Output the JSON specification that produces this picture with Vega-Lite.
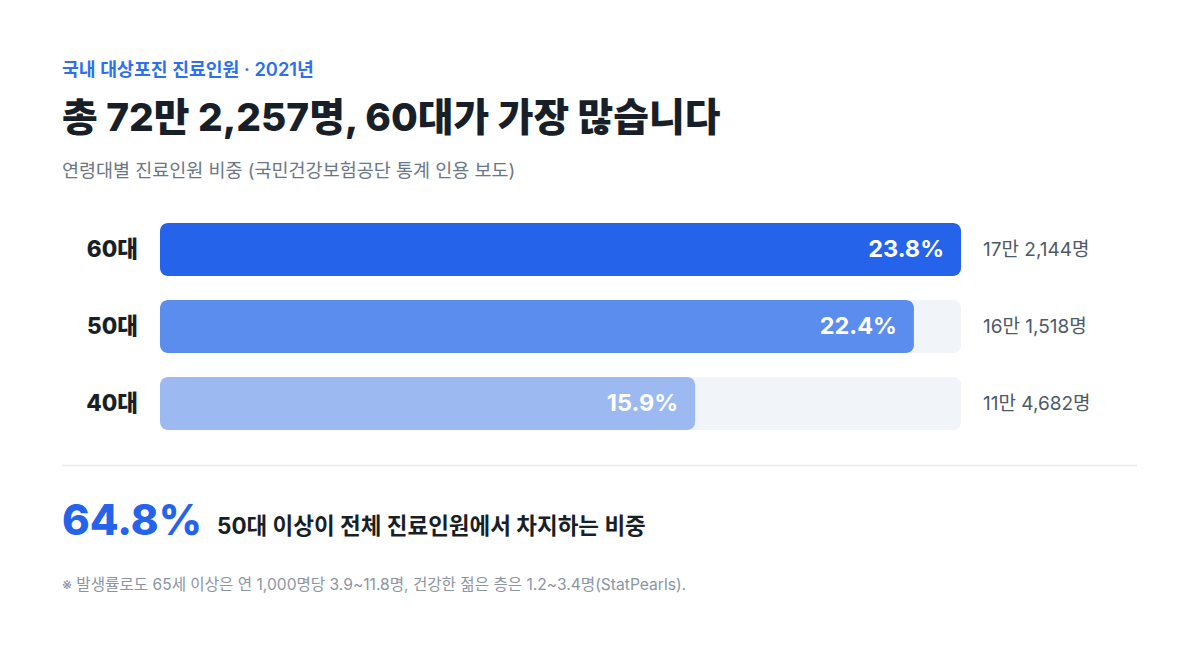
{
  "$schema": "https://vega.github.io/schema/vega-lite/v6.json",
  "width": 1200,
  "height": 207,
  "autosize": {"type": "none"},
  "padding": {"top": 223, "bottom": 223, "left": 0, "right": 0},
  "background": "#ffffff",
  "config": {
    "view": {"stroke": null},
    "font": "Inter, 'Noto Sans CJK KR', sans-serif"
  },
  "datasets": {
    "ages": [
      {"age": "60대", "share": 23.8, "label": "23.8%", "people": "17만 2,144명"},
      {"age": "50대", "share": 22.4, "label": "22.4%", "people": "16만 1,518명"},
      {"age": "40대", "share": 15.9, "label": "15.9%", "people": "11만 4,682명"}
    ],
    "texts": [
      {"role": "kicker", "text": "국내 대상포진 진료인원 · 2021년"},
      {"role": "headline", "text": "총 72만 2,257명, 60대가 가장 많습니다"},
      {"role": "subtitle", "text": "연령대별 진료인원 비중 (국민건강보험공단 통계 인용 보도)"},
      {"role": "highlight", "text": "64.8%"},
      {"role": "highlightDesc", "text": "50대 이상이 전체 진료인원에서 차지하는 비중"},
      {"role": "note", "text": "※ 발생률로도 65세 이상은 연 1,000명당 3.9~11.8명, 건강한 젊은 층은 1.2~3.4명(StatPearls)."}
    ]
  },
  "layer": [
    {
      "data": {"name": "ages"},
      "mark": {"type": "bar", "cornerRadius": 8, "color": "#f1f4f9"},
      "encoding": {
        "y": {
          "field": "age", "type": "nominal", "axis": null,
          "scale": {"domain": ["60대", "50대", "40대"], "paddingInner": 0.311688, "paddingOuter": 0}
        },
        "x": {"datum": 0, "type": "quantitative", "axis": null, "scale": {"domain": [-4.754, 30.90], "nice": false, "zero": false}},
        "x2": {"datum": 23.8}
      }
    },
    {
      "data": {"name": "ages"},
      "mark": {"type": "bar", "cornerRadius": 8},
      "encoding": {
        "y": {"field": "age", "type": "nominal"},
        "x": {"field": "share", "type": "quantitative"},
        "x2": {"datum": 0},
        "color": {
          "field": "age", "type": "nominal", "legend": null,
          "scale": {"domain": ["60대", "50대", "40대"], "range": ["#2563eb", "#5b8def", "#9cb9f2"]}
        }
      }
    },
    {
      "data": {"name": "ages"},
      "mark": {"type": "text", "align": "right", "baseline": "middle", "dx": -17, "fontSize": 23.5, "fontWeight": "bold", "color": "#ffffff"},
      "encoding": {
        "y": {"field": "age", "type": "nominal"},
        "x": {"field": "share", "type": "quantitative"},
        "text": {"field": "label"}
      }
    },
    {
      "data": {"name": "ages"},
      "mark": {"type": "text", "align": "left", "baseline": "middle", "dx": 22, "fontSize": 19, "color": "#4e5968"},
      "encoding": {
        "y": {"field": "age", "type": "nominal"},
        "x": {"datum": 23.8, "type": "quantitative"},
        "text": {"field": "people"}
      }
    },
    {
      "data": {"name": "ages"},
      "mark": {"type": "text", "align": "right", "baseline": "middle", "dx": -22, "fontSize": 22.5, "fontWeight": 800, "color": "#191f28"},
      "encoding": {
        "y": {"field": "age", "type": "nominal"},
        "x": {"datum": 0, "type": "quantitative"},
        "text": {"field": "age"}
      }
    },
    {
      "data": {"name": "texts"},
      "transform": [{"filter": "datum.role === 'kicker'"}],
      "mark": {"type": "text", "align": "left", "baseline": "middle", "dx": -98, "dy": -179, "fontSize": 18.3, "fontWeight": 600, "color": "#2f6fed"},
      "encoding": {
        "y": {"datum": "60대", "type": "nominal"},
        "x": {"datum": 0, "type": "quantitative"},
        "text": {"field": "text"}
      }
    },
    {
      "data": {"name": "texts"},
      "transform": [{"filter": "datum.role === 'headline'"}],
      "mark": {"type": "text", "align": "left", "baseline": "middle", "dx": -98, "dy": -130.5, "fontSize": 38.8, "fontWeight": 800, "color": "#191f28"},
      "encoding": {
        "y": {"datum": "60대", "type": "nominal"},
        "x": {"datum": 0, "type": "quantitative"},
        "text": {"field": "text"}
      }
    },
    {
      "data": {"name": "texts"},
      "transform": [{"filter": "datum.role === 'subtitle'"}],
      "mark": {"type": "text", "align": "left", "baseline": "middle", "dx": -98, "dy": -78.5, "fontSize": 18.5, "color": "#6b7684"},
      "encoding": {
        "y": {"datum": "60대", "type": "nominal"},
        "x": {"datum": 0, "type": "quantitative"},
        "text": {"field": "text"}
      }
    },
    {
      "data": {"values": [{"section": "summary"}]},
      "mark": {"type": "rule", "color": "#e8ebf0", "strokeWidth": 1.5, "xOffset": -98, "x2Offset": 176, "yOffset": 62},
      "encoding": {
        "y": {"datum": "40대", "type": "nominal"},
        "x": {"datum": 0, "type": "quantitative"},
        "x2": {"datum": 23.8}
      }
    },
    {
      "data": {"name": "texts"},
      "transform": [{"filter": "datum.role === 'highlight'"}],
      "mark": {"type": "text", "align": "left", "baseline": "middle", "dx": -98, "dy": 118, "fontSize": 42, "fontWeight": 800, "color": "#2563eb"},
      "encoding": {
        "y": {"datum": "40대", "type": "nominal"},
        "x": {"datum": 0, "type": "quantitative"},
        "text": {"field": "text"}
      }
    },
    {
      "data": {"name": "texts"},
      "transform": [{"filter": "datum.role === 'highlightDesc'"}],
      "mark": {"type": "text", "align": "left", "baseline": "middle", "dx": 57, "dy": 123.5, "fontSize": 22.5, "fontWeight": "bold", "color": "#191f28"},
      "encoding": {
        "y": {"datum": "40대", "type": "nominal"},
        "x": {"datum": 0, "type": "quantitative"},
        "text": {"field": "text"}
      }
    },
    {
      "data": {"name": "texts"},
      "transform": [{"filter": "datum.role === 'note'"}],
      "mark": {"type": "text", "align": "left", "baseline": "middle", "dx": -98, "dy": 181.5, "fontSize": 15.6, "color": "#8b95a1"},
      "encoding": {
        "y": {"datum": "40대", "type": "nominal"},
        "x": {"datum": 0, "type": "quantitative"},
        "text": {"field": "text"}
      }
    }
  ]
}
